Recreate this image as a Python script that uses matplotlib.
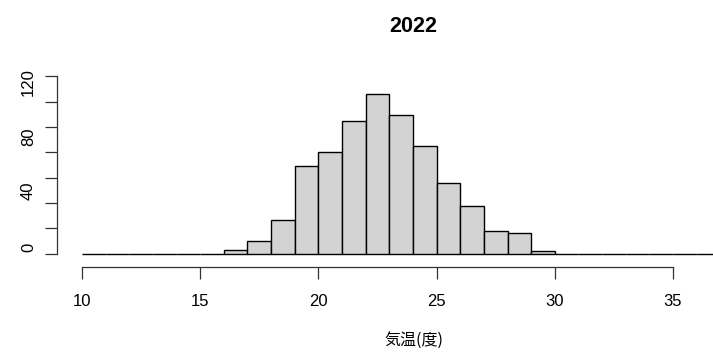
import numpy as np
import matplotlib.pyplot as plt
import matplotlib.transforms as mtrans

plt.rcParams['font.family'] = ['Liberation Sans', 'Noto Sans CJK JP', 'DejaVu Sans']

# Gegevens: histogram 2022, bakken van 1 graad
bin_edges = np.arange(10, 38)
counts = np.array([0, 0, 0, 0, 0, 0,            # 10-15
                   3, 10, 27, 69, 80, 105, 126, 109, 85, 56, 38, 18, 16, 2,  # 16-29
                   0, 0, 0, 0, 0, 0, 0])        # 30-36
x_ticks = [10, 15, 20, 25, 30, 35]
y_ticks = [0, 20, 40, 60, 80, 100, 120, 140]
y_labels = ['0', '', '40', '', '80', '', '120', '']
# verschuiving (pixels omhoog) van de y-labels t.o.v. hun streepje
y_shift = [6, 0, 12, 0, 16, 0, 19, 0]

fig = plt.figure(figsize=(7.13, 3.52), dpi=100)
ax = fig.add_axes([57.3 / 713, 85 / 352, 1 - 57.3 / 713, 207 / 352])

ax.bar(bin_edges[:-1], counts, width=1, align='edge',
       color='#d3d3d3', edgecolor='black', linewidth=1.0)

ax.set_xlim(8.955, 36.69)
ax.set_ylim(-10.4, 152.7)

for s in ['top', 'right']:
    ax.spines[s].set_visible(False)
ax.spines['left'].set_bounds(0, 140)
ax.spines['bottom'].set_bounds(10, 35)
for s in ['left', 'bottom']:
    ax.spines[s].set_linewidth(0.9)
    ax.spines[s].set_color('#333333')

ax.set_xticks(x_ticks)
ax.set_xticklabels([str(t) for t in x_ticks])
ax.set_yticks(y_ticks)
ax.set_yticklabels(y_labels, rotation=90, va='center', ha='right')
ax.tick_params(axis='both', length=8.3, width=0.9, color='#333333', labelsize=12)
ax.tick_params(axis='x', pad=11)
ax.tick_params(axis='y', pad=7)

for lab, d in zip(ax.get_yticklabels(), y_shift):
    shift = mtrans.ScaledTranslation(0, d / 100, fig.dpi_scale_trans)
    lab.set_transform(lab.get_transform() + shift)

fig.text(413 / 713, 1 - 26 / 352, '2022', ha='center', va='center',
         fontsize=15.5, fontweight='bold')
fig.text(414 / 713, 1 - 340 / 352, '気温(度)', ha='center', va='center',
         fontsize=11.5, family=['Noto Sans CJK JP'])

fig.savefig('out.png', dpi=100)
